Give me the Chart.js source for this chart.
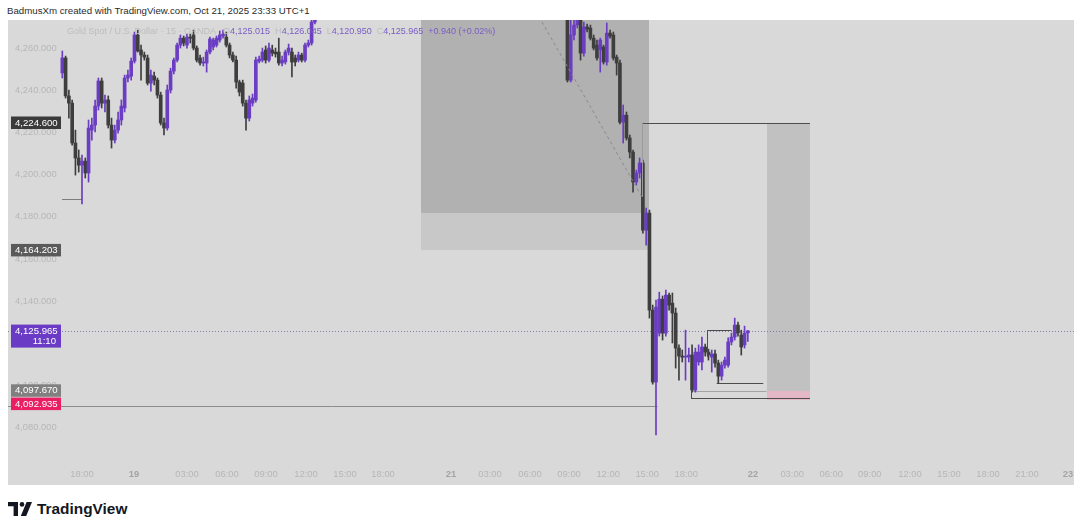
<!DOCTYPE html>
<html>
<head>
<meta charset="utf-8">
<script src="https://cdn.jsdelivr.net/npm/chart.js@4.4.1/dist/chart.umd.min.js"></script>
<style>
  html, body { margin: 0; padding: 0; background: #fff; }
  body { width: 1080px; height: 530px; position: relative; overflow: hidden; font-family: "Liberation Sans", Arial, sans-serif; }
  #header { position: absolute; left: 7px; top: 5px; font-size: 9.7px; color: #2b2b2b; white-space: pre; }
  #plot { position: absolute; left: 8px; top: 20px; width: 1066px; height: 465px; background: #d9d9d9; }
  #legend { position: absolute; left: 67px; top: 26px; font-size: 9px; color: #bdbdbd; white-space: pre; z-index: 2; }
  #legend b { font-weight: normal; color: #7b5cc6; }
  #logo { position: absolute; left: 8px; top: 500px; display: flex; align-items: center; }
  #logo span { margin-left: 5px; font-weight: bold; font-size: 15.4px; color: #131722; }
</style>
</head>
<body>
<div id="header">BadmusXm created with TradingView.com, Oct 21, 2025 23:33 UTC+1</div>
<div id="plot">
  <canvas id="chart" width="1066" height="465"></canvas>
</div>
<div id="legend">Gold Spot / U.S. Dollar · 15 · OANDA   O<b>4,125.015</b>  H<b>4,126.045</b>  L<b>4,120.950</b>  C<b>4,125.965</b>  <b>+0.940 (+0.02%)</b></div>
<div id="logo">
  <svg width="24" height="14" viewBox="0 0 24 14">
    <path d="M0 0H10V14H5.6V4.2H0Z" fill="#131722"/>
    <circle cx="14" cy="2.4" r="2.3" fill="#131722"/>
    <path d="M18.6 0H24L18.2 14H12.8Z" fill="#131722"/>
  </svg>
  <span>TradingView</span>
</div>
<script>
// 15分足 XAUUSD, 左側のブロック (バー番号 -6 から)
const firstBarA = -6;
const openA = [4248.2, 4255.3, 4237.3, 4233.9, 4215.0, 4207.9, 4204.5, 4206.4, 4200.8, 4221.1,
  4223.5, 4232.5, 4244.4, 4233.9, 4235.4, 4223.5, 4216.4, 4221.1, 4225.9, 4231.6,
  4245.8, 4246.7, 4253.8, 4266.2, 4259.1, 4256.7, 4255.3, 4243.4, 4246.7, 4244.8,
  4237.7, 4224.5, 4222.1, 4240.1, 4249.1, 4254.3, 4261.4, 4264.7, 4261.4, 4265.2,
  4266.2, 4260.0, 4255.3, 4252.9, 4252.9, 4258.1, 4260.5, 4261.4, 4263.8, 4265.7,
  4265.2, 4261.4, 4256.7, 4254.3, 4243.9, 4243.4, 4233.9, 4226.8, 4233.9, 4235.4,
  4253.8, 4254.3, 4259.1, 4254.3, 4259.1, 4258.1, 4258.1, 4252.9, 4253.4, 4258.1,
  4258.1, 4255.3, 4254.3, 4256.7, 4254.3, 4261.4, 4262.4, 4272.3];
const highA = [4258.6, 4256.2, 4240.1, 4235.4, 4221.1, 4211.7, 4209.3, 4207.9, 4225.9, 4226.8,
  4235.4, 4245.8, 4245.8, 4237.7, 4237.3, 4226.8, 4223.5, 4229.7, 4235.4, 4247.2,
  4249.6, 4255.3, 4267.6, 4268.5, 4261.4, 4258.1, 4256.7, 4249.6, 4248.6, 4245.8,
  4239.1, 4226.8, 4242.5, 4250.5, 4255.3, 4262.4, 4266.2, 4265.7, 4266.6, 4266.6,
  4268.5, 4261.0, 4256.7, 4255.7, 4259.1, 4265.2, 4264.7, 4265.7, 4268.1, 4268.5,
  4267.6, 4262.4, 4258.1, 4256.2, 4244.8, 4244.8, 4235.4, 4237.3, 4238.2, 4255.7,
  4256.2, 4260.0, 4261.0, 4262.4, 4261.4, 4260.0, 4264.7, 4256.2, 4259.1, 4261.9,
  4260.0, 4256.7, 4258.1, 4257.6, 4262.4, 4263.8, 4274.2, 4282.7];
const lowA = [4245.8, 4236.3, 4226.8, 4214.0, 4199.8, 4201.2, 4186.1, 4198.4, 4196.5, 4216.4,
  4220.2, 4230.6, 4231.6, 4229.7, 4222.1, 4212.6, 4215.0, 4219.7, 4223.5, 4229.7,
  4243.9, 4244.8, 4252.9, 4258.1, 4244.8, 4254.3, 4242.5, 4239.6, 4242.5, 4236.3,
  4223.5, 4218.8, 4221.1, 4238.7, 4247.7, 4253.4, 4260.0, 4261.0, 4260.0, 4262.4,
  4259.1, 4253.4, 4251.9, 4251.5, 4248.6, 4257.2, 4259.1, 4260.5, 4262.8, 4264.7,
  4260.5, 4255.3, 4253.4, 4241.0, 4237.3, 4232.5, 4221.1, 4225.4, 4232.5, 4234.4,
  4252.9, 4253.4, 4252.9, 4253.4, 4256.2, 4255.7, 4251.9, 4251.5, 4252.4, 4256.7,
  4246.3, 4251.5, 4253.4, 4253.4, 4253.4, 4260.5, 4261.4, 4271.4];
const closeA = [4255.3, 4237.3, 4233.9, 4215.0, 4207.9, 4204.5, 4206.4, 4200.8, 4222.1, 4223.5,
  4232.5, 4244.4, 4233.9, 4235.4, 4223.5, 4216.4, 4221.1, 4225.9, 4232.5, 4245.8,
  4247.2, 4253.8, 4266.2, 4258.6, 4256.7, 4255.7, 4243.4, 4247.2, 4244.8, 4237.7,
  4224.5, 4222.1, 4240.1, 4249.1, 4254.3, 4261.4, 4264.7, 4262.4, 4265.2, 4264.7,
  4260.0, 4254.3, 4252.9, 4253.4, 4258.1, 4264.3, 4263.8, 4264.7, 4266.2, 4266.6,
  4261.4, 4256.7, 4254.3, 4243.9, 4239.1, 4233.9, 4226.8, 4235.4, 4236.3, 4254.3,
  4254.8, 4258.1, 4254.3, 4260.0, 4257.6, 4257.2, 4252.9, 4254.3, 4258.1, 4260.0,
  4253.4, 4253.4, 4256.7, 4254.3, 4261.4, 4262.4, 4272.3, 4280.4];

// 右側のブロック (21日 09:00 付近から現在足まで)
const firstBarB = 148;
const openB = [4277.1, 4244.8, 4266.2, 4270.9, 4273.3, 4257.6, 4270.0, 4269.5, 4264.7, 4261.4,
  4259.1, 4260.5, 4253.4, 4267.1, 4266.2, 4255.7, 4252.9, 4224.9, 4228.2, 4217.4,
  4210.7, 4196.5, 4200.8, 4205.5, 4173.7, 4181.8, 4135.8, 4101.7, 4124.9, 4141.0,
  4124.9, 4142.9, 4139.1, 4134.4, 4117.8, 4114.0, 4113.5, 4113.5, 4114.5, 4097.9,
  4111.2, 4111.2, 4118.3, 4115.9, 4113.5, 4115.0, 4110.7, 4104.5, 4109.7, 4109.7,
  4120.7, 4123.0, 4128.7, 4124.0, 4119.3, 4125.015];
const highB = [4280.4, 4274.2, 4275.6, 4279.0, 4275.6, 4272.3, 4271.4, 4270.9, 4266.2, 4263.8,
  4264.7, 4261.4, 4271.9, 4268.5, 4267.6, 4256.7, 4254.3, 4233.0, 4229.7, 4218.8,
  4211.7, 4202.2, 4207.9, 4206.9, 4184.2, 4183.2, 4138.2, 4140.6, 4144.3, 4142.5,
  4145.3, 4143.9, 4143.9, 4136.8, 4119.3, 4116.9, 4126.3, 4117.8, 4119.3, 4117.8,
  4119.3, 4123.0, 4119.7, 4117.3, 4116.9, 4116.9, 4112.1, 4111.2, 4113.5, 4122.6,
  4124.9, 4132.0, 4130.1, 4126.3, 4128.2, 4126.045];
const lowB = [4243.9, 4243.9, 4263.8, 4269.5, 4254.3, 4256.2, 4267.6, 4263.8, 4259.1, 4254.3,
  4248.6, 4252.4, 4251.9, 4264.7, 4254.3, 4247.2, 4224.0, 4215.0, 4216.4, 4207.9,
  4191.7, 4195.1, 4198.4, 4172.3, 4166.6, 4132.0, 4100.7, 4076.6, 4123.5, 4121.6,
  4123.5, 4135.8, 4120.2, 4108.3, 4102.6, 4111.2, 4102.6, 4111.2, 4096.9, 4096.9,
  4109.7, 4107.4, 4114.0, 4112.1, 4106.4, 4108.8, 4101.2, 4102.6, 4108.3, 4108.8,
  4119.3, 4121.6, 4123.5, 4114.5, 4117.8, 4120.95];
const closeB = [4244.8, 4266.2, 4270.9, 4274.7, 4257.6, 4270.0, 4269.0, 4264.7, 4260.0, 4255.3,
  4263.8, 4253.4, 4267.1, 4265.7, 4255.3, 4252.9, 4224.9, 4228.2, 4217.4, 4210.7,
  4196.5, 4200.8, 4205.5, 4173.7, 4181.8, 4135.8, 4101.7, 4137.2, 4141.0, 4124.9,
  4142.9, 4138.2, 4134.4, 4117.8, 4114.0, 4113.5, 4114.0, 4114.5, 4097.9, 4115.9,
  4115.9, 4118.3, 4115.9, 4114.5, 4115.0, 4110.7, 4104.5, 4109.7, 4112.1, 4120.7,
  4123.0, 4128.7, 4124.9, 4118.3, 4124.9, 4125.965];

// 時間軸ラベル (バー番号の位置)
const timeTickBars = [0, 15.85, 32.0, 44.2, 56.1, 68.3, 80.2, 91.8, 112.5, 124.4, 136.6, 148.5,
  160.4, 172.3, 184.2, 204.6, 216.5, 228.4, 240.2, 252.4, 264.3, 276.2, 288.1, 300.6];
const timeTickLabels = ['18:00', '19', '03:00', '06:00', '09:00', '12:00', '15:00', '18:00', '21', '03:00',
  '06:00', '09:00', '12:00', '15:00', '18:00', '22', '03:00', '06:00', '09:00', '12:00',
  '15:00', '18:00', '21:00', '23'];
const priceTicks = [4080, 4100, 4120, 4140, 4160, 4180, 4200, 4220, 4240, 4260];

// 描画ツール (価格とバー番号で指定)
const zones = [
  { from: 103.35, to: 172.9, low: 4181.9, high: 4290, color: '#b1b1b1' },
  { from: 103.35, to: 172.9, low: 4164.203, high: 4181.9, color: '#c8c8c8' },
  { from: 208.7, to: 221.95, low: 4097.67, high: 4224.6, color: '#c1c1c1' },
  { from: 208.7, to: 221.95, low: 4093.4, high: 4097.67, color: '#e4b7c6' },
];
const levelLines = [
  { from: -6.1, to: 0, price: 4188.4, color: '#7d7d7d' },
  { from: 170.7, to: 221.95, price: 4224.6, color: '#4d4d4d' },
  { from: -25, to: 175.5, price: 4090.3, color: '#8c8c8c' },
  { from: 185.7, to: 208.7, price: 4097.67, color: '#a3a3a3' },
  { from: 185.7, to: 221.95, price: 4093.9, color: '#4d4d4d' },
  { from: 193.5, to: 207.7, price: 4101.2, color: '#4d4d4d' },
  { from: 190.6, to: 198.1, price: 4126.2, color: '#4d4d4d' },
];
const verticalLines = [
  { bar: 170.7, low: 4189.5, high: 4224.6, color: '#9c9c9c' },
  { bar: 185.7, low: 4093.9, high: 4097.67, color: '#4d4d4d' },
  { bar: 190.6, low: 4113.5, high: 4126.2, color: '#4d4d4d' },
];
const trendLine = { from: [137.5, 4279.8], to: [170.7, 4189.5], color: '#8a8a8a' };
const lastPrice = 4125.965;
const priceTags = [
  { value: 4224.6, text: '4,224.600', color: '#3b3b3b' },
  { value: 4164.203, text: '4,164.203', color: '#5a5a5a' },
  { value: 4125.965, text: '4,125.965', sub: '11:10', color: '#6a3bc4' },
  { value: 4097.67, text: '4,097.670', color: '#808080' },
  { value: 4092.935, text: '4,092.935', color: '#e91e63' },
];

const upColor = '#6a3dc2';
const downColor = '#3e3e3e';

function buildCandles(first, o, h, l, c) {
  return o.map((open, i) => ({ bar: first + i, open, high: h[i], low: l[i], close: c[i] }));
}
const candles = [
  ...buildCandles(firstBarA, openA, highA, lowA, closeA),
  ...buildCandles(firstBarB, openB, highB, lowB, closeB),
];
const candleColors = candles.map((k) => (k.close >= k.open ? upColor : downColor));

function zeroSize(scale, key) {
  scale[key] = 0;
  scale.paddingLeft = 0;
  scale.paddingRight = 0;
  scale.paddingTop = 0;
  scale.paddingBottom = 0;
}

const fmtPrice = (v) => v.toLocaleString('en-US', { minimumFractionDigits: 3, maximumFractionDigits: 3 });

// 描画ツール類のプラグイン
const drawingsPlugin = {
  id: 'drawings',
  beforeDatasetsDraw(chart) {
    const { ctx, chartArea, scales: { x, y } } = chart;
    ctx.save();
    ctx.beginPath();
    ctx.rect(chartArea.left, chartArea.top, chartArea.width, chartArea.height);
    ctx.clip();
    zones.forEach((z) => {
      const x1 = Math.round(x.getPixelForValue(z.from));
      const x2 = Math.round(x.getPixelForValue(z.to));
      const y1 = Math.round(y.getPixelForValue(z.high));
      const y2 = Math.round(y.getPixelForValue(z.low));
      ctx.fillStyle = z.color;
      ctx.fillRect(x1, y1, x2 - x1, y2 - y1);
    });
    // 現在値の点線
    const py = Math.round(y.getPixelForValue(lastPrice)) + 0.5;
    ctx.strokeStyle = 'rgba(110, 90, 160, 0.75)';
    ctx.lineWidth = 1;
    ctx.setLineDash([1, 2]);
    ctx.beginPath();
    ctx.moveTo(chartArea.left, py);
    ctx.lineTo(chartArea.right, py);
    ctx.stroke();
    ctx.setLineDash([]);
    levelLines.forEach((l) => {
      const ly = Math.round(y.getPixelForValue(l.price)) + 0.5;
      ctx.strokeStyle = l.color;
      ctx.beginPath();
      ctx.moveTo(x.getPixelForValue(l.from), ly);
      ctx.lineTo(x.getPixelForValue(l.to), ly);
      ctx.stroke();
    });
    ctx.restore();
  },
  afterDatasetsDraw(chart) {
    const { ctx, chartArea, scales: { x, y } } = chart;
    ctx.save();
    ctx.beginPath();
    ctx.rect(chartArea.left, chartArea.top, chartArea.width, chartArea.height);
    ctx.clip();
    ctx.lineWidth = 1;
    verticalLines.forEach((v) => {
      const vx = Math.round(x.getPixelForValue(v.bar)) + 0.5;
      ctx.strokeStyle = v.color;
      ctx.beginPath();
      ctx.moveTo(vx, y.getPixelForValue(v.high));
      ctx.lineTo(vx, y.getPixelForValue(v.low));
      ctx.stroke();
    });
    ctx.strokeStyle = trendLine.color;
    ctx.setLineDash([3, 3]);
    ctx.beginPath();
    ctx.moveTo(x.getPixelForValue(trendLine.from[0]), y.getPixelForValue(trendLine.from[1]));
    ctx.lineTo(x.getPixelForValue(trendLine.to[0]), y.getPixelForValue(trendLine.to[1]));
    ctx.stroke();
    ctx.restore();
  },
  afterDraw(chart) {
    const { ctx, scales: { y } } = chart;
    ctx.save();
    ctx.font = '9.6px "Liberation Sans", Arial, sans-serif';
    ctx.textBaseline = 'middle';
    let prevBottom = -Infinity;
    const tags = priceTags
      .map((t) => ({ ...t, py: y.getPixelForValue(t.value) }))
      .sort((a, b) => a.py - b.py);
    tags.forEach((t) => {
      const h = t.sub ? 23 : 12.5;
      let top = t.py - 6.25;
      if (top < prevBottom + 0.8) top = prevBottom + 0.8;
      ctx.fillStyle = t.color;
      ctx.fillRect(3, top, 50, h);
      ctx.fillStyle = '#ffffff';
      ctx.textAlign = 'left';
      ctx.fillText(t.text, 7, top + 6.5);
      if (t.sub) {
        ctx.textAlign = 'right';
        ctx.fillText(t.sub, 48, top + 17);
      }
      prevBottom = top + h;
    });
    ctx.restore();
  },
};

const isDayTick = (i) => !String(timeTickLabels[i] || '').includes(':');

new Chart(document.getElementById('chart'), {
  type: 'bar',
  data: {
    datasets: [
      {
        label: 'body',
        data: candles.map((k) => ({ x: k.bar, y: [k.open, k.close] })),
        backgroundColor: candleColors,
        barThickness: 3,
        minBarLength: 1,
        grouped: false,
        borderSkipped: false,
        order: 0,
      },
      {
        label: 'wick',
        data: candles.map((k) => ({ x: k.bar, y: [k.low, k.high] })),
        backgroundColor: candleColors,
        barThickness: 1,
        grouped: false,
        borderSkipped: false,
        order: 1,
      },
    ],
  },
  options: {
    responsive: false,
    animation: false,
    events: [],
    layout: { autoPadding: false, padding: 0 },
    plugins: { legend: { display: false }, tooltip: { enabled: false } },
    scales: {
      x: {
        type: 'linear',
        position: 'bottom',
        offset: false,
        min: -22.56,
        max: 302.44,
        grid: { display: false, drawTicks: false, offset: false },
        border: { display: false },
        afterBuildTicks: (s) => { s.ticks = timeTickBars.map((v) => ({ value: v })); },
        afterFit: (s) => zeroSize(s, 'height'),
        ticks: {
          mirror: true,
          padding: 4.5,
          autoSkip: false,
          maxRotation: 0,
          callback: (v, i) => timeTickLabels[i],
          color: (c) => (isDayTick(c.index) ? '#a4a4a4' : '#b6b6b6'),
          font: (c) => ({ family: '"Liberation Sans", Arial, sans-serif', size: 9.4, weight: isDayTick(c.index) ? 'bold' : 'normal' }),
        },
      },
      y: {
        type: 'linear',
        position: 'left',
        min: 4052.9,
        max: 4273.3,
        grid: { display: false, drawTicks: false },
        border: { display: false },
        afterBuildTicks: (s) => { s.ticks = priceTicks.map((v) => ({ value: v })); },
        afterFit: (s) => zeroSize(s, 'width'),
        ticks: {
          mirror: true,
          padding: 7,
          callback: (v) => fmtPrice(v),
          color: '#b7b7b7',
          font: { family: '"Liberation Sans", Arial, sans-serif', size: 9.4 },
        },
      },
    },
  },
  plugins: [drawingsPlugin],
});
</script>
</body>
</html>
